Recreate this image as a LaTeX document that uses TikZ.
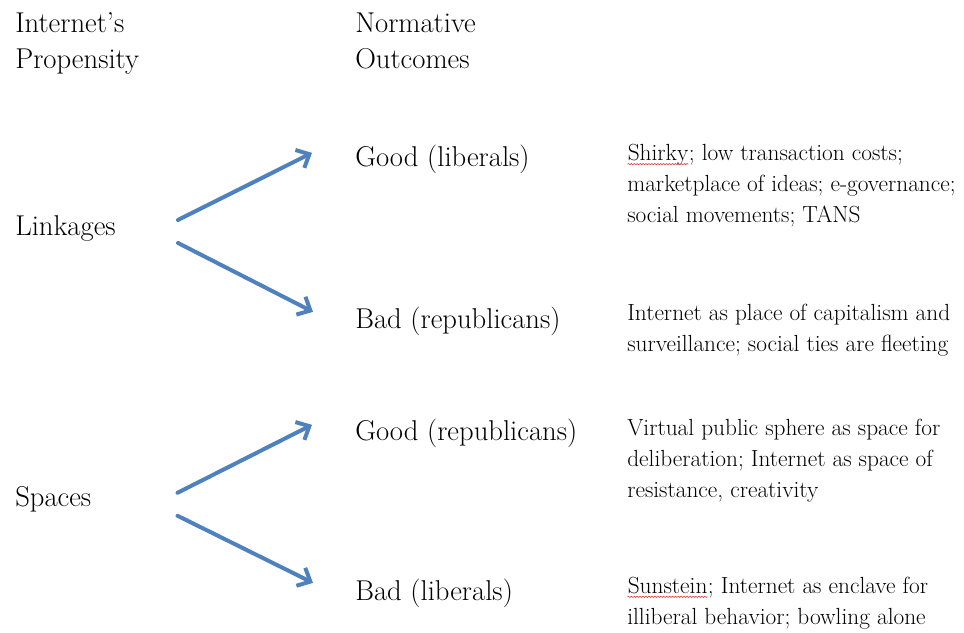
\documentclass[tikz,border=0pt]{standalone}
\usetikzlibrary{arrows.meta,positioning,decorations.pathmorphing}
\definecolor{flowblue}{RGB}{79,129,189}
\definecolor{spellred}{RGB}{225,45,45}
% red squiggle under a word, like a spell checker
\newcommand{\redwave}[1]{\tikz[baseline=(w.base)]{\node[inner sep=0pt,anchor=base west] (w) {#1};
  \draw[spellred,line width=.4pt,decorate,decoration={snake,amplitude=.5pt,segment length=2.2pt}]
    ([yshift=-2.6pt]w.base west) -- ([yshift=-2.6pt]w.base east);}}

\begin{document}
\begin{tikzpicture}[x=.75pt,y=-.75pt,
    every node/.style={inner sep=0pt,anchor=base west},
    label/.style={font=\fontsize{21.5}{27}\selectfont,align=left},
    note/.style={font=\fontsize{17.5}{23}\selectfont,align=left},
    flow/.style={draw=flowblue,line width=3pt,line cap=round,
      -{Straight Barb[length=8pt,width=15pt,line width=3pt]}}]
  \useasboundingbox (0,0) rectangle (964,632);

  % column heads (base anchor sits on the last line)
  \node[label] (prop) at (15,68) {Internet's\\Propensity};
  \node[label] (norm) at (355,68) {Normative\\Outcomes};

  % propensities
  \node[label] (lnk) at (15,235) {Linkages};
  \node[label] (spc) at (15,506) {Spaces};

  % outcomes
  \node[label] (goodlib) at (355,166) {Good (liberals)};
  \node[label] (badrep) at (355,328) {Bad (republicans)};
  \node[label] (goodrep) at (355,440) {Good (republicans)};
  \node[label] (badlib) at (355,600) {Bad (liberals)};

  % literature
  \node[note] (n1) at (627,222) {\redwave{Shirky}; low transaction costs;\\marketplace of ideas; e-governance;\\social movements; TANS};
  \node[note] (n2) at (627,351) {Internet as place of capitalism and\\surveillance; social ties are fleeting};
  \node[note] (n3) at (627,497) {Virtual public sphere as space for\\deliberation; Internet as space of\\resistance, creativity};
  \node[note] (n4) at (627,624) {\redwave{Sunstein}; Internet as enclave for\\illiberal behavior; bowling alone};

  \draw[flow] ([shift={(62,-8)}]lnk.east) -- ([shift={(-43,-6)}]goodlib.west);
  \draw[flow] ([shift={(62,15)}]lnk.east) -- ([shift={(-42,-9)}]badrep.west);
  \draw[flow] ([shift={(86,-6)}]spc.east) -- ([shift={(-43,-8)}]goodrep.west);
  \draw[flow] ([shift={(86,17)}]spc.east) -- ([shift={(-42,-10)}]badlib.west);
\end{tikzpicture}
\end{document}
